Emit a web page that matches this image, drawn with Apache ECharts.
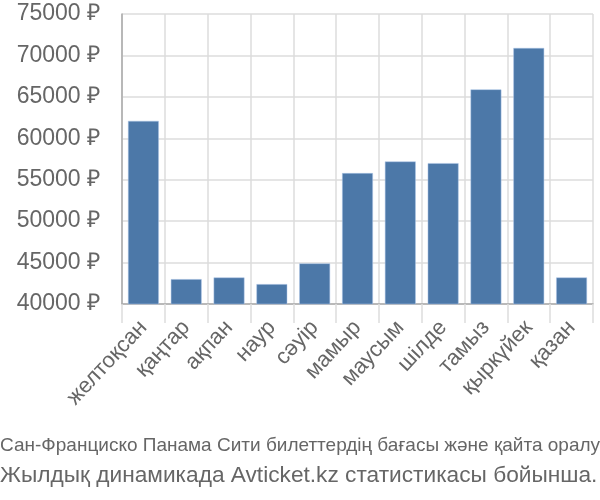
<!DOCTYPE html>
<html><head><meta charset="utf-8">
<script src="https://cdn.jsdelivr.net/npm/echarts@6/dist/echarts.min.js"></script>
<style>html,body{margin:0;padding:0;background:#fff}#c{width:600px;height:500px}</style>
</head><body><div id="c"></div>
<script>
var categories = ['желтоқсан','қаңтар','ақпан','наур','сәуір','мамыр','маусым','шілде','тамыз','қыркүйек','қазан'];
var prices = [62100, 43000, 43200, 42400, 44900, 55800, 57200, 57000, 65900, 70900, 43200];
var titleLine1 = 'Сан-Франциско Панама Сити билеттердің бағасы және қайта оралу';
var titleLine2 = 'Жылдық динамикада Avticket.kz статистикасы бойынша.';

var chart = echarts.init(document.getElementById('c'));
chart.setOption({
  animation: false,
  grid: {left: 122, right: 7, top: 14, bottom: 196},
  xAxis: {
    type: 'category', data: categories,
    axisLine: {lineStyle: {color: '#aaa', width: 1.5}},
    axisTick: {show: true, length: 19, lineStyle: {color: '#ddd', width: 1.5}},
    splitLine: {show: true, lineStyle: {color: '#ddd', width: 1.5}},
    axisLabel: {rotate: 47, color: '#666', fontSize: 22, fontFamily: 'Liberation Sans', margin: 20, interval: 0}
  },
  yAxis: {
    type: 'value', min: 40000, max: 75000, interval: 5000,
    axisLine: {show: true, lineStyle: {color: '#aaa', width: 1.5}},
    axisTick: {show: false},
    splitLine: {lineStyle: {color: '#ddd', width: 1.5}},
    axisLabel: {color: '#666', fontSize: 23, fontFamily: 'Liberation Sans', margin: 22,
      formatter: function(v){ return v + ' ₽'; }}
  },
  series: [{
    type: 'bar', data: prices, barWidth: '72%',
    itemStyle: {color: '#4c78a8', borderColor: '#aec7e8', borderWidth: 0.5}
  }],
  graphic: [
    {type: 'text', left: 0, top: 436, style: {text: titleLine1, fill: '#666', font: '19px "Liberation Sans Narrow", sans-serif'}},
    {type: 'text', left: 0, top: 464, style: {text: titleLine2, fill: '#666', font: '22.7px "Liberation Sans", sans-serif'}}
  ]
});
</script></body></html>
